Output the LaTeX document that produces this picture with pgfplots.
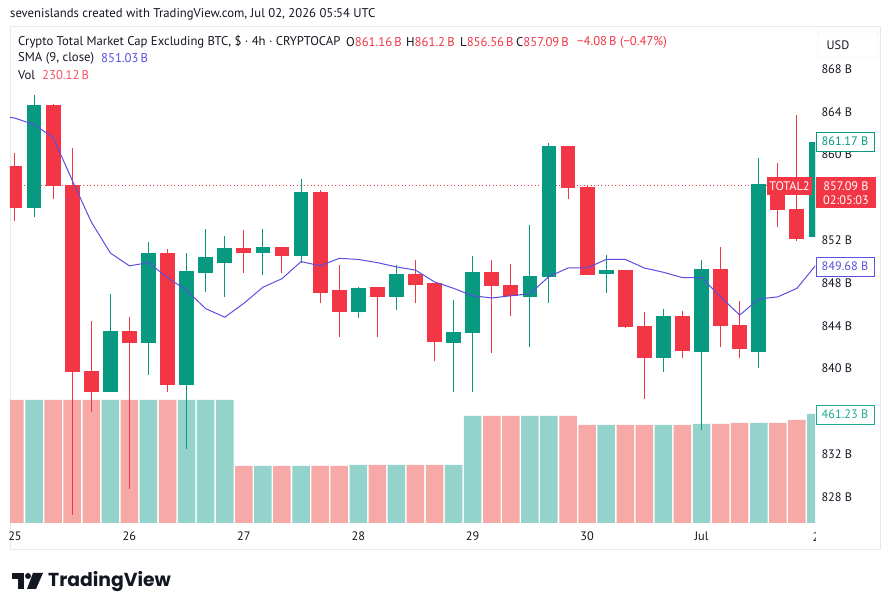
\documentclass[border=0pt]{standalone}
\usepackage{pgfplots}
\pgfplotsset{compat=1.18}
\usepackage{pgfplotstable}
\usepackage{fontspec}
\setmainfont{PT Sans}
\newfontfamily\logofont{Poppins}
\definecolor{up}{HTML}{089981}
\definecolor{dn}{HTML}{F23645}
\definecolor{vup}{HTML}{93D3CB}
\definecolor{vdn}{HTML}{F7A9A8}
\definecolor{sma}{HTML}{5A4FE0}
\definecolor{txt}{HTML}{131722}
\definecolor{frm}{HTML}{E6E8EE}
\definecolor{vlab}{HTML}{22AB94}

\pgfplotstableread{
i o h l c v
1 855.0 865.6 854.2 864.6 520.5
5 837.8 847.0 837.8 843.5 520.5
7 842.4 851.8 839.4 850.8 520.5
9 838.5 850.8 832.5 849.1 520.5
10 848.9 853.0 847.2 850.4 520.5
11 849.9 852.4 846.7 851.3 520.5
13 850.8 853.0 848.7 851.4 241.2
15 850.5 857.7 849.9 856.5 241.2
18 845.3 847.6 844.7 847.5 245.4
20 846.7 849.7 845.5 848.8 245.4
23 842.4 846.4 837.8 843.4 245.4
24 843.3 850.5 837.8 849.0 452.8
27 846.7 853.4 842.0 848.7 452.8
28 848.6 861.1 846.1 860.8 452.8
31 848.8 850.6 847.1 849.2 414.7
34 841.0 845.6 839.7 844.9 414.7
36 841.6 850.2 834.3 849.3 418.9
39 841.6 859.7 840.1 857.3 423.1
42 852.3 861.3 852.3 861.17 461.23
}\upt

\pgfplotstableread{
i o h l c v
0 858.9 860.1 853.8 855.0 520.5
2 864.6 864.7 855.9 857.1 520.5
3 857.2 860.6 826.3 839.7 520.5
4 839.8 844.4 835.9 837.8 520.5
6 843.5 844.8 828.8 842.4 520.5
8 850.8 851.2 837.8 838.5 520.5
12 851.3 853.0 848.9 850.8 241.2
14 851.4 851.4 848.9 850.5 241.2
16 856.5 856.7 846.1 847.1 241.2
17 847.3 849.7 843.0 845.3 241.2
19 847.6 847.6 843.0 846.7 245.4
21 848.8 850.1 846.1 847.8 245.4
22 848.0 848.0 840.7 842.5 245.4
25 849.0 850.1 841.5 847.7 452.8
26 847.8 849.8 844.9 846.8 452.8
29 860.8 860.8 855.9 856.9 452.8
30 857.0 857.1 848.8 848.8 414.7
32 849.2 849.2 843.8 843.9 414.7
33 844.0 845.3 837.2 841.0 414.7
35 844.9 845.4 841.0 841.6 414.7
37 849.3 851.4 842.0 844.0 418.9
38 844.1 846.3 841.0 841.8 423.1
40 857.3 859.2 853.2 854.8 423.1
41 854.9 863.7 851.9 852.1 435.8
}\dnt

\pgfplotstableread{
i s
-1 863.7
0 863.4
1 862.8
2 861.6
3 857.6
4 853.7
5 850.8
6 849.6
7 849.9
8 848.5
9 847.3
10 845.6
11 844.8
12 846.1
13 847.6
14 848.4
15 850.0
16 849.6
17 850.3
18 850.2
19 849.9
20 849.5
21 849.2
22 848.1
23 847.5
24 846.8
25 846.6
26 846.8
27 847.0
28 848.6
29 849.4
30 849.4
31 850.2
32 850.2
33 849.4
34 849.0
35 848.5
36 848.5
37 846.7
38 845.0
39 846.5
40 846.7
41 847.5
42 849.68
}\smat

\pgfplotsset{candle/.style 2 args={only marks, mark=*, mark size=0pt,
  mark options={draw=none, fill=none},
  error bars/.cd, y dir=both, y explicit, error mark=none,
  error bar style={draw=#1, line width=#2}}}

\begin{document}
\begin{tikzpicture}[x=1pt,y=1pt,font=\fontsize{12}{14}\selectfont]
\path[use as bounding box] (0,0) rectangle (891,612);
\fill[white] (0,0) rectangle (891,612);
% container frame
\draw[frm, line width=1pt] (10,{612-27}) rectangle (880,{612-550});

% volume pane
\begin{axis}[at={(10pt,89pt)}, anchor=south west, width=805pt, height=493pt, scale only axis,
  xmin=-0.262, xmax=41.95, ymin=0, ymax=2086, hide axis, ybar, bar width=17.5pt]
\addplot[fill=vup, draw=none, bar shift=0pt] table[x=i,y=v]{\upt};
\addplot[fill=vdn, draw=none, bar shift=0pt] table[x=i,y=v]{\dnt};
\end{axis}

% price pane
\begin{axis}[at={(10pt,89pt)}, anchor=south west, width=805pt, height=493pt, scale only axis,
  xmin=-0.262, xmax=41.95, ymin=825.57, ymax=871.64,
  axis line style={draw=none}, tick style={draw=none}, major tick length=0pt,
  ytick={828,832,840,844,848,852,860,864,868},
  yticklabels={828 B,832 B,840 B,844 B,848 B,852 B,860 B,864 B,868 B},
  yticklabel pos=right,
  yticklabel style={anchor=west, xshift=3pt, text=txt, font=\fontsize{12.3}{14}\selectfont},
  xtick={0,6,12,18,24,30,36},
  xticklabels={25,26,27,28,29,30,Jul},
  xticklabel style={text=txt, yshift=-5pt, font=\fontsize{12.3}{14}\selectfont},
  clip=true]
% last price line
\addplot[dn, line width=0.8pt, dash pattern=on 1pt off 2.5pt, no markers] coordinates {(-1,857.09) (43,857.09)};
% wicks
\addplot[candle={up}{1pt}]
  table[x=i, y expr={(\thisrow{h}+\thisrow{l})/2}, y error expr={(\thisrow{h}-\thisrow{l})/2}]{\upt};
\addplot[candle={dn}{1pt}]
  table[x=i, y expr={(\thisrow{h}+\thisrow{l})/2}, y error expr={(\thisrow{h}-\thisrow{l})/2}]{\dnt};
% bodies
\addplot[candle={up}{14.8pt}]
  table[x=i, y expr={(\thisrow{o}+\thisrow{c})/2}, y error expr={abs(\thisrow{c}-\thisrow{o})/2}]{\upt};
\addplot[candle={dn}{14.8pt}]
  table[x=i, y expr={(\thisrow{o}+\thisrow{c})/2}, y error expr={abs(\thisrow{c}-\thisrow{o})/2}]{\dnt};
% SMA
\addplot[sma, line width=1pt, no markers] table[x=i,y=s]{\smat};
\end{axis}

% clipped last date label
\begin{scope}
\clip (800,{612-525}) rectangle (815,{612-550});
\node[text=txt, font=\fontsize{12.3}{14}\selectfont] at (816,{612-537}) {2};
\end{scope}

% header texts
\begin{scope}[font=\fontsize{12.7}{15}\selectfont]
\node[anchor=west, text=txt, inner sep=0] at (10,{612-14}) {sevenislands created with TradingView.com, Jul 02, 2026 05:54 UTC};
\node[anchor=west, text=txt, inner sep=0] at (18,{612-42}) {Crypto Total Market Cap Excluding BTC, \$ · 4h · CRYPTOCAP};
\node[anchor=west, inner sep=0] at (346,{612-42}) {\textcolor{txt}{O}\textcolor{dn}{861.16\,B}};
\node[anchor=west, inner sep=0] at (406,{612-42}) {\textcolor{txt}{H}\textcolor{dn}{861.2\,B}};
\node[anchor=west, inner sep=0] at (460,{612-42}) {\textcolor{txt}{L}\textcolor{dn}{856.56\,B}};
\node[anchor=west, inner sep=0] at (516,{612-42}) {\textcolor{txt}{C}\textcolor{dn}{857.09\,B}};
\node[anchor=west, inner sep=0, text=dn] at (577,{612-42}) {−4.08\,B (−0.47\%)};
\node[anchor=west, text=txt, inner sep=0] at (18,{612-58}) {SMA (9, close)};
\node[anchor=west, text=sma, inner sep=0] at (101,{612-58}) {851.03\,B};
\node[anchor=west, text=txt, inner sep=0] at (18,{612-75}) {Vol};
\node[anchor=west, text=dn!85, inner sep=0] at (42,{612-75}) {230.12\,B};
\end{scope}

% price scale labels
\begin{scope}[font=\fontsize{12.3}{14}\selectfont]
\draw[frm, fill=white, rounded corners=2pt] (818,{612-32}) rectangle (878,{612-58});
\node[text=txt] at (838,{612-45}) {USD};
\draw[up, fill=white, line width=0.8pt] (816,{612-132}) rectangle (874,{612-151});
\node[text=up] at (845,{612-141.5}) {861.17 B};
\fill[dn] (816,{612-177}) rectangle (876,{612-208});
\node[text=white] at (846,{612-186}) {857.09 B};
\node[text=white] at (846,{612-200}) {02:05:03};
\fill[dn] (767,{612-177}) rectangle (812,{612-195});
\node[text=white] at (789.5,{612-186}) {TOTAL2};
\draw[sma, fill=white, line width=0.8pt] (816,{612-257}) rectangle (874,{612-276});
\node[text=sma] at (845,{612-266.5}) {849.68 B};
\draw[vlab, fill=white, line width=0.8pt] (816,{612-405}) rectangle (874,{612-424});
\node[text=vlab] at (845,{612-414.5}) {461.23 B};
\end{scope}

% TradingView logo
\fill[txt] (12,{612-573}) rectangle (24,{612-579});
\fill[txt] (18,{612-573}) rectangle (24,{612-589});
\fill[txt] (28,{612-576}) circle (3);
\fill[txt] (33,{612-573}) -- (43,{612-573}) -- (36,{612-589}) -- (27,{612-589}) -- cycle;
\node[anchor=west, inner sep=0, text=txt] at (48,{612-582}) {\logofont\bfseries\fontsize{18.8}{22}\selectfont TradingView};
\end{tikzpicture}
\end{document}
